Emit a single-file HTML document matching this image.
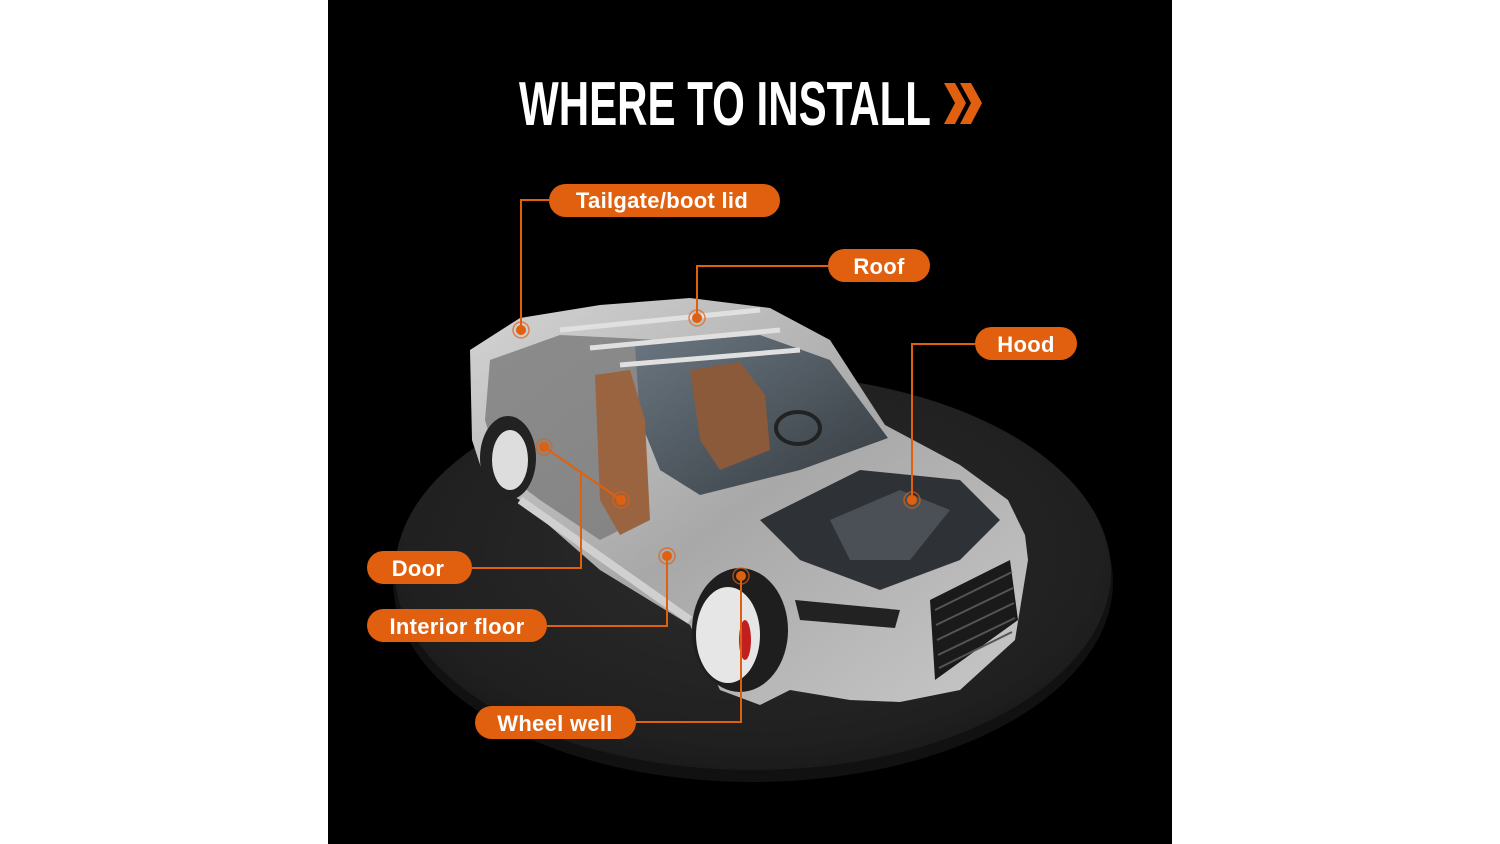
<!DOCTYPE html>
<html><head><meta charset="utf-8"><style>
html,body{margin:0;padding:0;background:#fff;width:1500px;height:844px;overflow:hidden}
svg{display:block}
.lbl{font-family:"Liberation Sans",sans-serif;font-size:22px;fill:#fff;font-weight:bold;letter-spacing:0.3px}
</style></head><body>
<svg width="1500" height="844" viewBox="0 0 1500 844" xmlns="http://www.w3.org/2000/svg">
<defs>
<radialGradient id="plat" cx="0.5" cy="0.45" r="0.6">
<stop offset="0" stop-color="#2c2c2c"/><stop offset="0.8" stop-color="#202020"/><stop offset="1" stop-color="#171717"/>
</radialGradient>
<linearGradient id="body" x1="0" y1="0" x2="1" y2="1">
<stop offset="0" stop-color="#d4d4d4"/><stop offset="0.5" stop-color="#a8a8a8"/><stop offset="1" stop-color="#c8c8c8"/>
</linearGradient>
<linearGradient id="glass" x1="0" y1="0" x2="1" y2="1">
<stop offset="0" stop-color="#6a7680"/><stop offset="1" stop-color="#353b40"/>
</linearGradient>
</defs>
<rect x="0" y="0" width="1500" height="844" fill="#fff"/>
<rect x="328" y="0" width="844" height="844" fill="#000"/>
<ellipse cx="753" cy="582" rx="360" ry="200" fill="#111"/>
<ellipse cx="753" cy="572" rx="358" ry="198" fill="url(#plat)"/>
<text x="519" y="125" font-family="'Liberation Sans Narrow','Liberation Sans',sans-serif" font-weight="bold" font-size="62" fill="#fff" textLength="412" lengthAdjust="spacingAndGlyphs">WHERE TO INSTALL</text>
<path d="M944 83 L955 83 L966 103 L955 124 L944 124 L955 103 Z" fill="#e0600f"/>
<path d="M960 83 L971 83 L982 103 L971 124 L960 124 L971 103 Z" fill="#e0600f"/>
<path d="M470 350 L520 318 L600 305 L690 298 L770 308 L830 340 L885 425 L960 465 L1008 500 L1025 535 L1028 560 L1015 640 L960 690 L900 702 L850 700 L790 690 L760 705 L720 690 L690 625 L600 570 L520 500 L485 480 L472 440 Z" fill="url(#body)"/>
<path d="M490 360 L560 335 L660 340 L640 420 L640 520 L600 540 L540 500 L500 470 L485 420 Z" fill="#7a7a7a" opacity="0.8"/>
<path d="M635 345 L760 335 L830 360 L888 438 L800 470 L700 495 L660 470 L640 420 Z" fill="url(#glass)"/>
<path d="M690 370 L740 362 L765 395 L770 450 L720 470 L700 440 Z" fill="#8a5a3a"/>
<path d="M595 375 L630 370 L645 420 L650 520 L620 535 L600 500 Z" fill="#9a6440"/>
<ellipse cx="798" cy="428" rx="22" ry="16" fill="none" stroke="#222" stroke-width="4"/>
<path d="M560 330 L760 310 M590 348 L780 330 M620 365 L800 350" stroke="#e0e0e0" stroke-width="5"/>
<path d="M760 520 L860 470 L960 480 L1000 520 L960 560 L880 590 L800 560 Z" fill="#2e3236"/>
<path d="M830 520 L900 490 L950 510 L910 560 L850 560 Z" fill="#4b5056"/>
<path d="M930 600 L1010 560 L1018 620 L935 680 Z" fill="#1a1a1a"/>
<path d="M935 610 L1012 572 M936 625 L1013 588 M937 640 L1014 603 M938 655 L1015 618 M939 668 L1012 632" stroke="#555" stroke-width="2"/>
<path d="M795 600 L900 610 L895 628 L800 620 Z" fill="#222"/>
<ellipse cx="508" cy="458" rx="28" ry="42" fill="#222"/>
<ellipse cx="510" cy="460" rx="18" ry="30" fill="#ddd"/>
<ellipse cx="740" cy="630" rx="48" ry="62" fill="#1e1e1e"/>
<ellipse cx="728" cy="635" rx="32" ry="48" fill="#e6e6e6"/>
<ellipse cx="745" cy="640" rx="6" ry="20" fill="#c02020"/>
<path d="M520 500 L690 620" stroke="#d0d0d0" stroke-width="8"/>
<g stroke="#e0600f" stroke-width="2" fill="none">
<path d="M549 200 H521 V330"/>
<path d="M828 266 H697 V318"/>
<path d="M975 344 H912 V500"/>
<path d="M472 568 H581 V471"/>
<path d="M544 447 L621 500"/>
<path d="M547 626 H667 V556"/>
<path d="M636 722 H741 V576"/>
</g>
<g fill="#e0600f">
<circle cx="521" cy="330" r="5"/><circle cx="697" cy="318" r="5"/><circle cx="912" cy="500" r="5"/>
<circle cx="544" cy="447" r="5"/><circle cx="621" cy="500" r="5"/><circle cx="667" cy="556" r="5"/><circle cx="741" cy="576" r="5"/>
</g>
<g fill="none" stroke="#e0600f" stroke-width="1.5" opacity="0.7">
<circle cx="521" cy="330" r="8"/><circle cx="697" cy="318" r="8"/><circle cx="912" cy="500" r="8"/>
<circle cx="544" cy="447" r="8"/><circle cx="621" cy="500" r="8"/><circle cx="667" cy="556" r="8"/><circle cx="741" cy="576" r="8"/>
</g>
<g fill="#e0600f">
<rect x="549" y="184" width="231" height="33" rx="16.5"/>
<rect x="828" y="249" width="102" height="33" rx="16.5"/>
<rect x="975" y="327" width="102" height="33" rx="16.5"/>
<rect x="367" y="551" width="105" height="33" rx="16.5"/>
<rect x="367" y="609" width="180" height="33" rx="16.5"/>
<rect x="475" y="706" width="161" height="33" rx="16.5"/>
</g>
<g text-anchor="middle">
<text x="662" y="208" class="lbl">Tailgate/boot lid</text>
<text x="879" y="274" class="lbl">Roof</text>
<text x="1026" y="352" class="lbl">Hood</text>
<text x="418" y="576" class="lbl">Door</text>
<text x="457" y="634" class="lbl">Interior floor</text>
<text x="555" y="731" class="lbl">Wheel well</text>
</g>
</svg>
</body></html>
